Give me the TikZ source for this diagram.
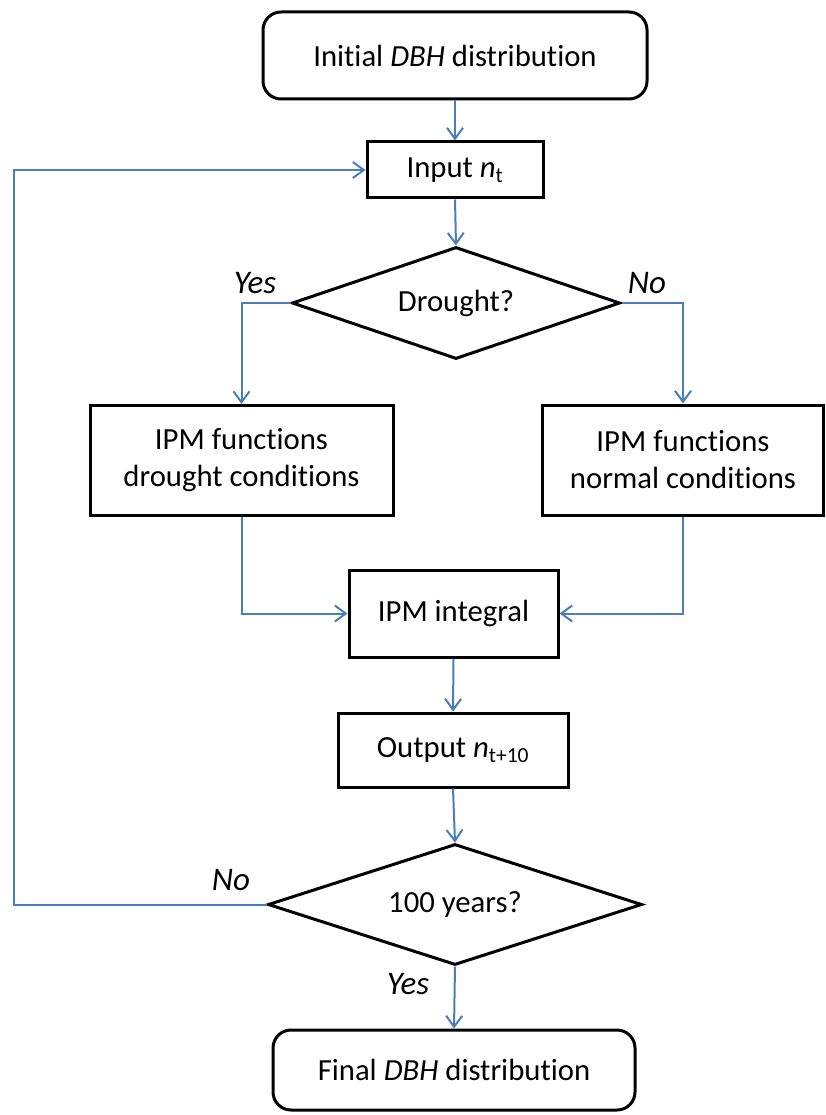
\documentclass[tikz,border=0pt]{standalone}
\usepackage{fontspec}
\setmainfont{Carlito}[Ligatures=CommonOff]
\usetikzlibrary{arrows.meta,shapes.geometric}
\definecolor{conncol}{HTML}{4A7EBB}
\begin{document}
\begin{tikzpicture}[x=1pt,y=-1pt,
  box/.style={draw=black,line width=3pt,fill=white,inner sep=0pt,align=center,
    font=\fontsize{30.7}{37}\selectfont},
  rbox/.style={box,rounded corners=18pt},
  dec/.style={box,shape=diamond},
  conn/.style={draw=conncol,line width=2pt,-{Straight Barb[length=11pt,width=16pt]}},
  lab/.style={font=\fontsize{33}{37}\selectfont\itshape,inner sep=0pt}]
\useasboundingbox (0,0) rectangle (825,1115);

\node[rbox,minimum width=384pt,minimum height=87pt] (init) at (455,55.5) {Initial \textit{DBH} distribution};
\node[box,minimum width=176pt,minimum height=56pt] (input) at (455,170) {Input \textit{n}\textsubscript{t}};
\node[dec,aspect=2.93,minimum width=328pt,minimum height=112pt] (drought) at (456,303) {Drought?};
\node[box,minimum width=303pt,minimum height=110pt] (lbox) at (241.5,460.5) {IPM functions\\drought conditions};
\node[box,minimum width=281pt,minimum height=110pt] (rbox) at (683,460) {IPM functions\\normal conditions};
\node[box,minimum width=209pt,minimum height=87pt] (integ) at (453.5,613.5) {IPM integral};
\node[box,minimum width=230pt,minimum height=74pt] (output) at (453,750) {Output \textit{n}\textsubscript{t+10}};
\node[dec,aspect=3.09,minimum width=374pt,minimum height=121pt] (years) at (455,904.5) {100 years?};
\node[rbox,minimum width=362pt,minimum height=80pt] (final) at (454,1070) {Final \textit{DBH} distribution};

\node[lab] (yes1) at (255,283) {Yes};
\node[lab] (no1) at (647,283) {No};
\node[lab] (no2) at (231,880) {No};
\node[lab] (yes2) at (408,984) {Yes};

\coordinate (lp) at (14,0);

\draw[conn] (init.south) -- (input.north);
\draw[conn] (input.south) -- (drought.north);
\draw[conn] (drought.west) -| (lbox.north);
\draw[conn] (drought.east) -| (rbox.north);
\draw[conn] (lbox.south) |- (integ.west);
\draw[conn] (rbox.south) |- (integ.east);
\draw[conn] (integ.south) -- (output.north);
\draw[conn] (output.south) -- (years.north);
\draw[conn] (years.south) -- (final.north);
\draw[conn] (years.west) -- (lp |- years.west) |- (input.west);
\end{tikzpicture}
\end{document}
